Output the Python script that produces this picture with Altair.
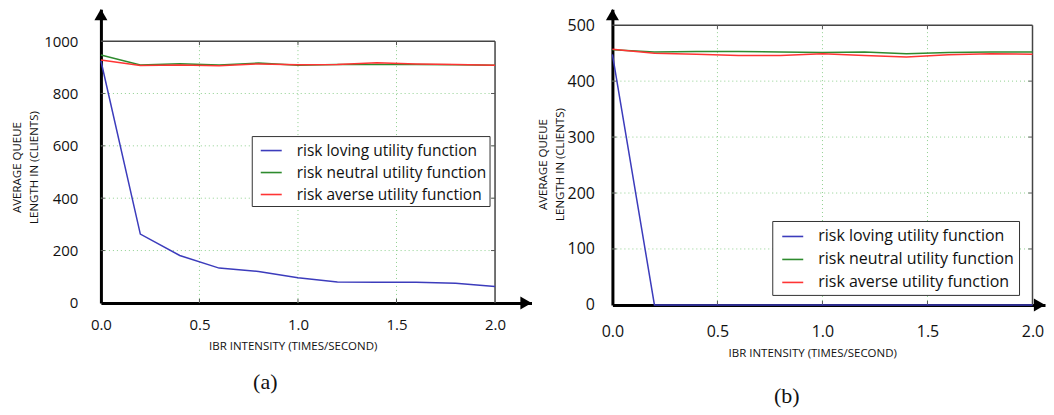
import altair as alt
import pandas as pd

# ---------------- data ----------------
x_vals = [0.0, 0.2, 0.4, 0.6, 0.8, 1.0, 1.2, 1.4, 1.6, 1.8, 2.0]
series_names = [
    "risk loving utility function",
    "risk neutral utility function",
    "risk averse utility function",
]
colors = ["#3c3cbc", "#2e8b2e", "#ff3434"]

# panel (a)
a_loving = [925, 263, 181, 133, 120, 96, 80, 79, 79, 75, 63]
a_neutral = [947, 909, 914, 909, 916, 908, 911, 911, 911, 910, 908]
a_averse = [928, 907, 909, 906, 913, 910, 911, 917, 913, 911, 908]

# panel (b)
b_loving = [448, 0, 0, 0, 0, 0, 0, 0, 0, 0, 0]
b_neutral = [456, 452, 453, 453, 452, 451, 452, 449, 451, 452, 452]
b_averse = [457, 450, 448, 446, 446, 449, 446, 443, 447, 449, 448]

x_ticks = [0.0, 0.5, 1.0, 1.5, 2.0]
a_y_ticks = [0, 200, 400, 600, 800, 1000]
b_y_ticks = [0, 100, 200, 300, 400, 500]

y_title = ["AVERAGE QUEUE", "LENGTH IN (CLIENTS)"]
x_title = "IBR INTENSITY (TIMES/SECOND)"

FONT = "Open Sans"
GRID = "#8fd08f"
TICK_PX = 4


def panel(loving, neutral, averse, y_ticks, xmax, ymax, width, height,
          label_fs, ylp, ytp, yty, xlp, xtp, xtx, lx, ly, leg_fs, leg_rp, leg_pad,
          caption, cap_dx, cap_off):
    xr = x_ticks[-1]
    yt = y_ticks[-1]
    rows = []
    for name, vals in zip(series_names, [loving, neutral, averse]):
        for xv, v in zip(x_vals, vals):
            rows.append({"x": xv, "y": v, "series": name})
    df = pd.DataFrame(rows)

    xs = alt.Scale(domain=[0, xmax], nice=False, zero=False)
    ys = alt.Scale(domain=[0, ymax], nice=False, zero=False)
    xaxis = alt.Axis(
        values=x_ticks, format=".1f", title=x_title, grid=False, ticks=False,
        domain=True, domainColor="black", domainWidth=3, labelFlush=False, labelOverlap=False,
        labelFont=FONT, labelFontSize=label_fs, labelColor="#111", labelPadding=xlp,
        titleFont=FONT, titleFontSize=11.5, titleFontWeight="normal", titleColor="#111",
        titlePadding=xtp, titleX=xtx, titleAlign="center",
    )
    yaxis = alt.Axis(
        values=y_ticks, format="d", title=y_title, grid=False, ticks=False,
        domain=True, domainColor="black", domainWidth=3, labelFlush=False, labelOverlap=False,
        labelFont=FONT, labelFontSize=label_fs, labelColor="#111", labelPadding=ylp,
        titleFont=FONT, titleFontSize=11.5, titleFontWeight="normal", titleColor="#111",
        titlePadding=ytp, titleY=yty, titleLineHeight=17,
    )
    X = alt.X("x:Q", scale=xs, axis=xaxis)
    Y = alt.Y("y:Q", scale=ys, axis=yaxis)

    # dotted grid inside the frame
    vgrid = pd.DataFrame({"x": x_ticks[1:-1], "x2": x_ticks[1:-1],
                          "y": [0] * 3, "y2": [yt] * 3})
    hgrid = pd.DataFrame({"x": [0] * (len(y_ticks) - 2), "x2": [xr] * (len(y_ticks) - 2),
                          "y": y_ticks[1:-1], "y2": y_ticks[1:-1]})
    grid = pd.concat([vgrid, hgrid])
    # frame (top and right)
    frame = pd.DataFrame({"x": [0, xr], "x2": [xr, xr], "y": [yt, 0], "y2": [yt, yt]})
    # inward ticks on all four sides
    dx = TICK_PX * xmax / width
    dy = TICK_PX * ymax / height
    tk = []
    for yv in y_ticks[1:-1]:
        tk.append({"x": 0, "x2": dx, "y": yv, "y2": yv})
        tk.append({"x": xr - dx, "x2": xr, "y": yv, "y2": yv})
    for xv in x_ticks[1:-1]:
        tk.append({"x": xv, "x2": xv, "y": 0, "y2": dy})
        tk.append({"x": xv, "x2": xv, "y": yt - dy, "y2": yt})
    ticks = pd.DataFrame(tk)

    grid_l = alt.Chart(grid).mark_rule(color=GRID, strokeWidth=1, strokeDash=[1, 3]).encode(
        x=X, x2="x2:Q", y=Y, y2="y2:Q")
    frame_l = alt.Chart(frame).mark_rule(color="#444", strokeWidth=1.5).encode(
        x=X, x2="x2:Q", y=Y, y2="y2:Q")
    tick_l = alt.Chart(ticks).mark_rule(color="#555", strokeWidth=1).encode(
        x=X, x2="x2:Q", y=Y, y2="y2:Q")

    lines = alt.Chart(df).mark_line(strokeWidth=1.5).encode(
        x=X, y=Y,
        color=alt.Color(
            "series:N",
            scale=alt.Scale(domain=series_names, range=colors),
            sort=series_names,
            legend=alt.Legend(
                title=None, orient="none", legendX=lx, legendY=ly, direction="vertical",
                symbolType="stroke", symbolSize=441, symbolStrokeWidth=1.6,
                symbolOffset=5, labelFont=FONT, labelFontSize=leg_fs, labelColor="#111",
                labelOffset=14, labelLimit=400, rowPadding=leg_rp, padding=leg_pad,
                strokeColor="#333", fillColor="white", cornerRadius=0,
            ),
        ),
    )

    arrows = pd.DataFrame({
        "x": [0, xmax - 5.5 * xmax / width],
        "y": [ymax - 5.5 * ymax / height, 0],
        "shape": ["triangle-up", "triangle-right"],
    })
    arrow_l = alt.Chart(arrows).mark_point(filled=True, size=170, opacity=1, color="black").encode(
        x=X, y=Y, shape=alt.Shape("shape:N", scale=None, legend=None))

    return alt.layer(grid_l, frame_l, tick_l, lines, arrow_l).properties(
        width=width, height=height,
        title=alt.TitleParams(caption, orient="bottom", anchor="middle", frame="group",
                              font="Liberation Serif", fontSize=22, fontWeight="normal",
                              color="#111", dx=cap_dx, offset=cap_off),
    )


left = panel(a_loving, a_neutral, a_averse, a_y_ticks,
             xmax=2.185, ymax=1122, width=431, height=294,
             label_fs=15, ylp=23, ytp=4, yty=158, xlp=15, xtp=8, xtx=192,
             lx=151, ly=127, leg_fs=15.5, leg_rp=2, leg_pad=3,
             caption="(a)", cap_dx=-51, cap_off=20)
right = panel(b_loving, b_neutral, b_averse, b_y_ticks,
              xmax=2.0595, ymax=528.6, width=433, height=296,
              label_fs=16, ylp=18, ytp=2, yty=155, xlp=19, xtp=8, xtx=200,
              lx=160, ly=212, leg_fs=16, leg_rp=3, leg_pad=4,
              caption="(b)", cap_dx=-42, cap_off=27)

chart = alt.hconcat(left, right, spacing=4).resolve_legend(color="independent").properties(
    padding={"left": 3, "top": 0, "right": 0, "bottom": 0}
).configure_view(stroke=None)

chart.save("out.html", embed_options={"renderer": "svg", "actions": False})
